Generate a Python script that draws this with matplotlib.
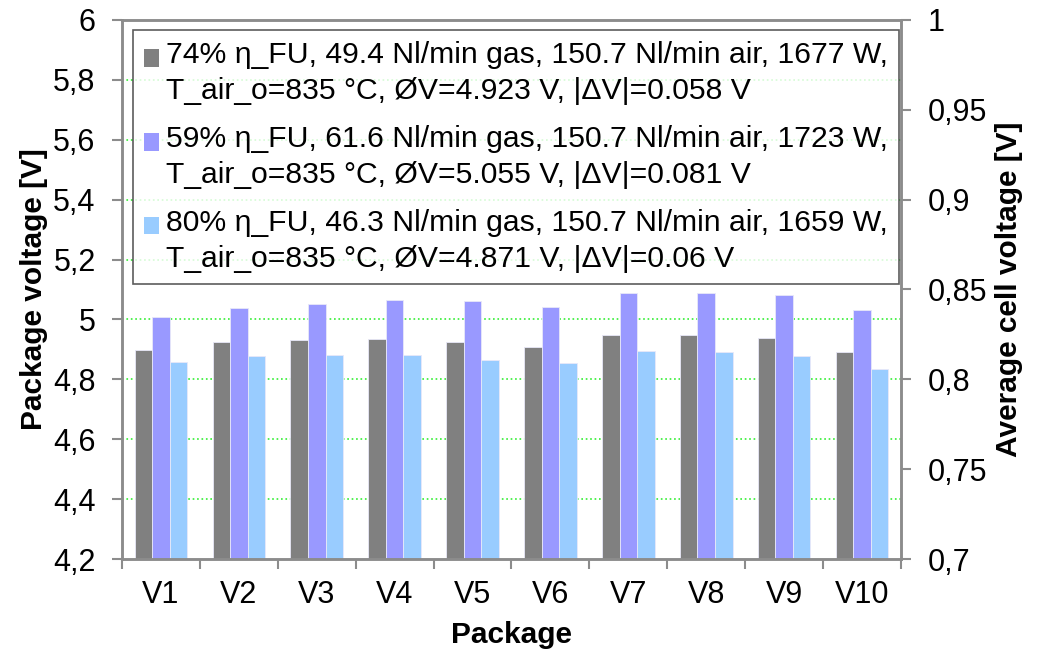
import matplotlib.pyplot as plt
import numpy as np
from matplotlib.ticker import FixedLocator
from matplotlib.patches import Rectangle

plt.rcParams['font.family'] = ['Liberation Sans', 'DejaVu Sans']

pakiety = ['V1', 'V2', 'V3', 'V4', 'V5', 'V6', 'V7', 'V8', 'V9', 'V10']

# napiecie pakietow [V]
u_74 = [4.899, 4.924, 4.930, 4.935, 4.924, 4.907, 4.948, 4.947, 4.939, 4.891]
u_59 = [5.008, 5.038, 5.052, 5.065, 5.061, 5.041, 5.089, 5.088, 5.082, 5.032]
u_80 = [4.859, 4.877, 4.881, 4.881, 4.865, 4.854, 4.894, 4.892, 4.878, 4.834]

etykiety = [
    '74% η_FU, 49.4 Nl/min gas, 150.7 Nl/min air, 1677 W,\nT_air_o=835 °C, ØV=4.923 V, |ΔV|=0.058 V',
    '59% η_FU, 61.6 Nl/min gas, 150.7 Nl/min air, 1723 W,\nT_air_o=835 °C, ØV=5.055 V, |ΔV|=0.081 V',
    '80% η_FU, 46.3 Nl/min gas, 150.7 Nl/min air, 1659 W,\nT_air_o=835 °C, ØV=4.871 V, |ΔV|=0.06 V',
]
kolory = ['#808080', '#9999FF', '#99CCFF']

lewe_ticki = [4.2, 4.4, 4.6, 4.8, 5.0, 5.2, 5.4, 5.6, 5.8, 6.0]
lewe_opisy = ['4,2', '4,4', '4,6', '4,8', '5', '5,2', '5,4', '5,6', '5,8', '6']
prawe_ticki = [0.7, 0.75, 0.8, 0.85, 0.9, 0.95, 1.0]
prawe_opisy = ['0,7', '0,75', '0,8', '0,85', '0,9', '0,95', '1']


# kwadracik legendy przy pierwszej linii opisu
class Kwadrat:
    def legend_artist(self, legend, orig_handle, fontsize, handlebox):
        x0, y0 = handlebox.xdescent, handlebox.ydescent
        w, h = handlebox.width, handlebox.height
        p = Rectangle((-x0, -y0 + 11.0), w, h, facecolor=orig_handle.get_facecolor(),
                      edgecolor='none')
        handlebox.add_artist(p)
        return p


fig = plt.figure(figsize=(10.39, 6.51), dpi=100)
ax = fig.add_axes([0.1174, 0.1413, 0.7498, 0.828])

x = np.arange(len(pakiety))
w = 0.225
slupki = []
for k, (dane, kol, et) in enumerate(zip([u_74, u_59, u_80], kolory, etykiety)):
    b = ax.bar(x + (k - 1) * w, dane, w, color=kol, label=et, zorder=2,
               edgecolor='#E8E8F8', linewidth=0.6)
    slupki.append(b)

szary = '#8C8C8C'
ax.set_xlim(-0.5, 9.5)
ax.set_ylim(4.2, 6.0)
ax.set_yticks(lewe_ticki)
ax.set_yticklabels(lewe_opisy)
ax.set_xticks(x)
ax.set_xticklabels(pakiety)
ax.xaxis.set_minor_locator(FixedLocator(np.arange(-0.5, 10, 1)))
ax.tick_params(axis='x', which='major', length=0, labelsize=22, pad=15)
ax.tick_params(axis='x', which='minor', length=7, color=szary, width=1.5)
ax.tick_params(axis='y', length=7, color=szary, width=1.5, labelsize=22, pad=12)

# linie siatki tylko wewnatrz
for v in lewe_ticki[1:-1]:
    ax.axhline(v, color='#33EE33', linestyle=':', linewidth=1.2, zorder=1)

for s in ax.spines.values():
    s.set_color(szary)
    s.set_linewidth(1.8)

ax.set_xlabel('Package', fontsize=21.5, fontweight='bold', labelpad=8)
ax.set_ylabel('Package voltage [V]', fontsize=21.5, fontweight='bold', labelpad=4)

ax2 = ax.twinx()
ax2.set_ylim(0.7, 1.0)
ax2.set_yticks(prawe_ticki)
ax2.set_yticklabels(prawe_opisy)
ax2.tick_params(axis='y', length=7, color=szary, width=1.5, labelsize=22, pad=12)
for s in ax2.spines.values():
    s.set_color(szary)
    s.set_linewidth(1.8)
ax2.set_ylabel('Average cell voltage [V]', fontsize=21.5, fontweight='bold', labelpad=6)

leg = ax.legend(handles=[b.patches[0] for b in slupki], labels=etykiety,
                handler_map={type(slupki[0].patches[0]): Kwadrat()},
                loc='upper left', bbox_to_anchor=(0.0141, 0.981), fontsize=21.7,
                frameon=True, fancybox=False, edgecolor='#333333',
                handlelength=0.5, handleheight=0.5, handletextpad=0.25,
                labelspacing=0.65, borderpad=0.35, borderaxespad=0.0)
for t in leg.get_texts():
    t.set_linespacing(1.38)
leg.get_frame().set_linewidth(1.2)
leg.set_zorder(5)

plt.savefig('out.png', dpi=100)
